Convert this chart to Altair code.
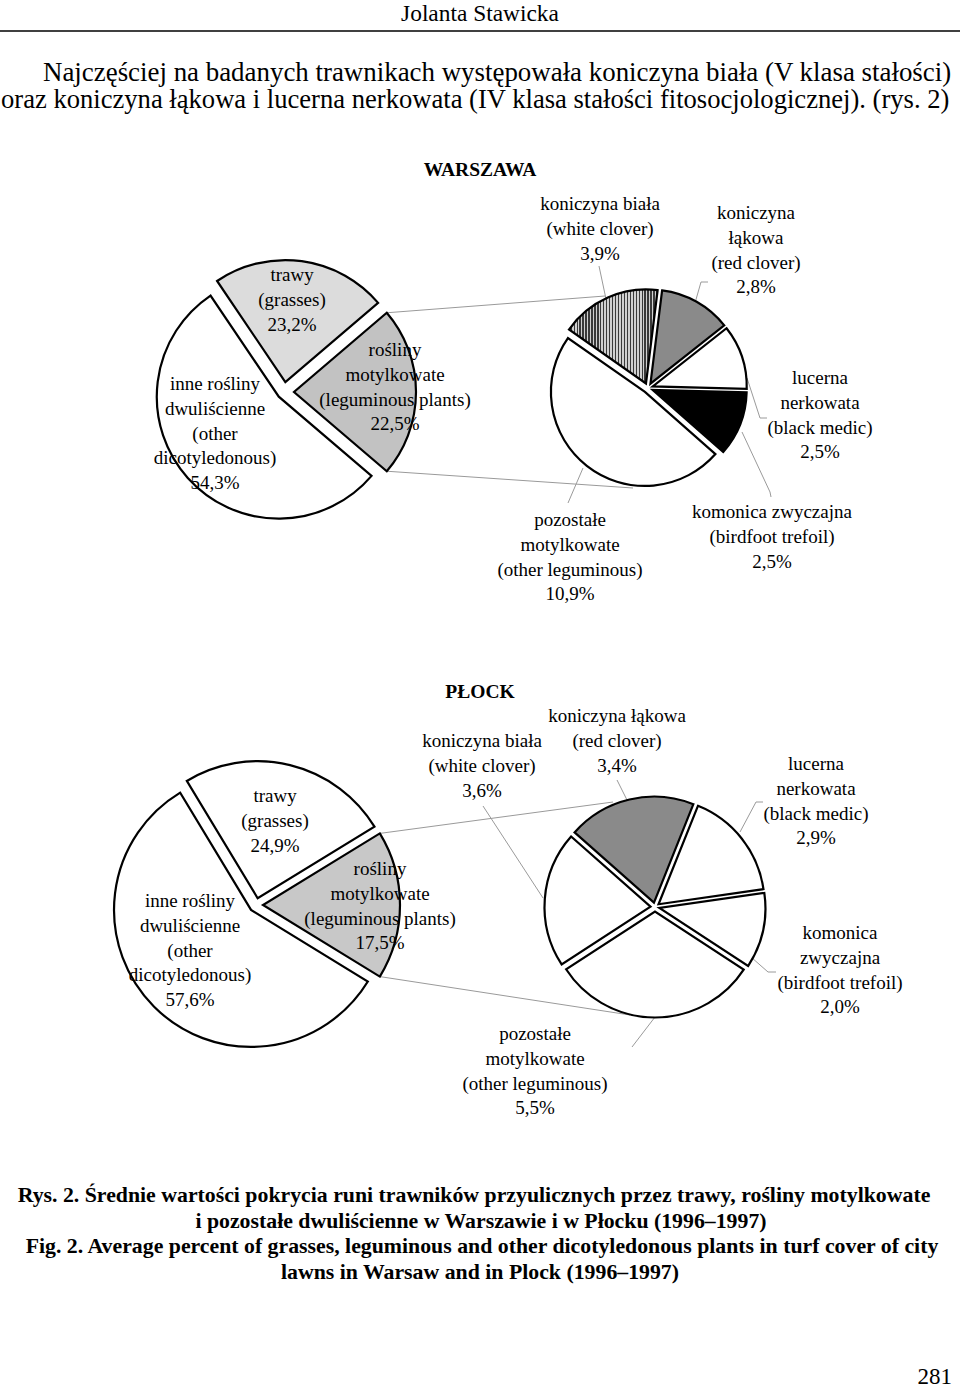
import math
import altair as alt
import pandas as pd

# ---------------- data ----------------
main_names = ["trawy", "rośliny motylkowate", "inne rośliny dwuliścienne"]
warsaw_main = [23.2, 22.5, 54.3]
plock_main = [24.9, 17.5, 57.6]

sub_names = ["koniczyna biała", "koniczyna łąkowa", "lucerna nerkowata",
             "komonica zwyczajna", "pozostałe motylkowate"]
warsaw_sub = [3.9, 2.8, 2.5, 2.5, 10.9]
plock_sub = [3.6, 3.4, 2.9, 2.0, 5.5]

warsaw_main_fill = ["#dcdcdc", "#c2c2c2", "#ffffff"]
plock_main_fill = ["#ffffff", "#c8c8c8", "#ffffff"]
warsaw_sub_fill = ["stripes", "#8a8a8a", "#ffffff", "#000000", "#ffffff"]
plock_sub_fill = ["#ffffff", "#8a8a8a", "#ffffff", "#ffffff", "#ffffff"]

warsaw_main_text = ["trawy\n(grasses)\n23,2%",
                    "rośliny\nmotylkowate\n(leguminous plants)\n22,5%",
                    "inne rośliny\ndwuliścienne\n(other\ndicotyledonous)\n54,3%"]
warsaw_sub_text = ["koniczyna biała\n(white clover)\n3,9%",
                   "koniczyna\nłąkowa\n(red clover)\n2,8%",
                   "lucerna\nnerkowata\n(black medic)\n2,5%",
                   "komonica zwyczajna\n(birdfoot trefoil)\n2,5%",
                   "pozostałe\nmotylkowate\n(other leguminous)\n10,9%"]
plock_main_text = ["trawy\n(grasses)\n24,9%",
                   "rośliny\nmotylkowate\n(leguminous plants)\n17,5%",
                   "inne rośliny\ndwuliścienne\n(other\ndicotyledonous)\n57,6%"]
plock_sub_text = ["koniczyna biała\n(white clover)\n3,6%",
                  "koniczyna łąkowa\n(red clover)\n3,4%",
                  "lucerna\nnerkowata\n(black medic)\n2,9%",
                  "komonica\nzwyczajna\n(birdfoot trefoil)\n2,0%",
                  "pozostałe\nmotylkowate\n(other leguminous)\n5,5%"]

header = "Jolanta Stawicka"
para = ["Najczęściej na badanych trawnikach występowała koniczyna biała (V klasa stałości)",
        "oraz koniczyna łąkowa i lucerna nerkowata (IV klasa stałości fitosocjologicznej). (rys. 2)"]
caption = ["Rys. 2. Średnie wartości pokrycia runi trawników przyulicznych przez trawy, rośliny motylkowate",
           "i pozostałe dwuliścienne w Warszawie i w Płocku (1996–1997)",
           "Fig. 2. Average percent of grasses, leguminous and other dicotyledonous plants in turf cover of city",
           "lawns in Warsaw and in Plock (1996–1997)"]
page_no = "281"

FONT = "Liberation Serif"

# stripes pattern (vertical lines) built as a gradient
stops = []
N = 30
for i in range(N):
    stops += [alt.GradientStop(offset=i / N, color="#d0d0d0"),
              alt.GradientStop(offset=(i + 0.55) / N, color="#d0d0d0"),
              alt.GradientStop(offset=(i + 0.55) / N, color="#3a3a3a"),
              alt.GradientStop(offset=min(1.0, (i + 1) / N), color="#3a3a3a")]
stripes = alt.LinearGradient(gradient="linear", stops=stops, x1=0, x2=1, y1=0, y2=0)


def pie(names, values, fills, cx, cy, r, start_deg, explode):
    total = sum(values)
    s = math.radians(start_deg)
    df = pd.DataFrame({"name": names, "value": values, "order": list(range(len(values))),
                       "fill": fills, "explode": explode})
    base = alt.Chart(df).transform_window(
        cum="sum(value)", sort=[alt.SortField("order")], frame=[None, 0]
    ).transform_calculate(
        c0="datum.cum - datum.value",
        mid=f"{s} + PI*(2*datum.cum - datum.value)/{total}",
    ).transform_calculate(
        px=f"{cx} + datum.explode*sin(datum.mid)",
        py=f"{cy} - datum.explode*cos(datum.mid)",
    )
    enc = dict(
        x=alt.X("px:Q", scale=None, axis=None),
        y=alt.Y("py:Q", scale=None, axis=None),
        theta=alt.Theta("c0:Q", stack=None,
                        scale=alt.Scale(domain=[0, total], range=[s, s + 2 * math.pi],
                                        nice=False, zero=False)),
        theta2="cum:Q",
    )
    out = [base.transform_filter("datum.fill != 'stripes'").mark_arc(
        radius=r, stroke="black", strokeWidth=2.2, strokeJoin="miter"
    ).encode(fill=alt.Fill("fill:N", scale=None), **enc)]
    if "stripes" in fills:
        out.append(base.transform_filter("datum.fill == 'stripes'").mark_arc(
            radius=r, stroke="black", strokeWidth=2.2, strokeJoin="miter", fill=stripes
        ).encode(**enc))
    return out


def legume_start(values):
    # secondary-pie convention: the split slice is centred on the right (90°)
    return 90 - values[1] / sum(values) * 180 - values[0] / sum(values) * 360


layers = []
W_MAIN = dict(cx=284, cy=392, r=122)
P_MAIN = dict(cx=256, cy=905, r=137)
layers += pie(main_names, warsaw_main, warsaw_main_fill, W_MAIN["cx"], W_MAIN["cy"], W_MAIN["r"],
              legume_start(warsaw_main), [10, 10, 7])
layers += pie(sub_names, warsaw_sub, warsaw_sub_fill, 648, 388, 94, -55, [5] * 5)
layers += pie(main_names, plock_main, plock_main_fill, P_MAIN["cx"], P_MAIN["cy"], P_MAIN["r"],
              legume_start(plock_main), [7, 7, 7])
layers += pie(sub_names, plock_sub, plock_sub_fill, 655, 907, 106, -123, [4.5] * 5)


def legume_corners(values, cx, cy, r, d):
    st = legume_start(values)
    a0 = st + values[0] / sum(values) * 360
    a1 = a0 + values[1] / sum(values) * 360
    ox, oy = cx + d, cy
    return [(ox + r * math.sin(math.radians(a)), oy - r * math.cos(math.radians(a))) for a in (a0, a1)]


wc = legume_corners(warsaw_main, W_MAIN["cx"], W_MAIN["cy"], W_MAIN["r"], 10)
pc = legume_corners(plock_main, P_MAIN["cx"], P_MAIN["cy"], P_MAIN["r"], 7)

lines = {
    "w_top": [wc[0], (605, 296)],
    "w_bot": [wc[1], (633, 488)],
    "p_top": [pc[0], (613, 802)],
    "p_bot": [pc[1], (630, 1015)],
    "w_white": [(599, 266), (606, 299)],
    "w_red": [(708, 282), (701, 282), (695, 303)],
    "w_luc": [(747, 378), (760, 418), (767, 418)],
    "w_kom": [(742, 432), (770, 492), (771, 497)],
    "w_poz": [(583, 468), (568, 503)],
    "p_red": [(617, 780), (627, 800)],
    "p_white": [(483, 806), (543, 898)],
    "p_luc": [(763, 802), (756, 802), (740, 832)],
    "p_kom": [(743, 950), (768, 972), (776, 972)],
    "p_poz": [(655, 1017), (632, 1047)],
}
rows = []
for k, pts in lines.items():
    for i, (x, y) in enumerate(pts):
        rows.append({"id": k, "i": i, "x": x, "y": y})
line_layer = alt.Chart(pd.DataFrame(rows)).mark_line(color="#9a9a9a", strokeWidth=1).encode(
    x=alt.X("x:Q", scale=None, axis=None), y=alt.Y("y:Q", scale=None, axis=None),
    detail="id:N", order="i:Q")

# pie labels: (centre x, first-line y)
lab_pos = {
    "w_main": [(292, 275), (395, 350), (215, 384)],
    "w_sub": [(600, 204), (756, 213), (820, 378), (772, 512), (570, 520)],
    "p_main": [(275, 796), (380, 869), (190, 901)],
    "p_sub": [(482, 741), (617, 716), (816, 764), (840, 933), (535, 1034)],
}
texts = {"w_main": warsaw_main_text, "w_sub": warsaw_sub_text,
         "p_main": plock_main_text, "p_sub": plock_sub_text}
lrows = []
for k, pos in lab_pos.items():
    for (x, y), t in zip(pos, texts[k]):
        lrows.append({"x": x, "y": y, "t": t})
label_layer = alt.Chart(pd.DataFrame(lrows)).mark_text(
    font=FONT, fontSize=19, lineBreak="\n", lineHeight=24.8, align="center", baseline="middle",
    color="black"
).encode(x=alt.X("x:Q", scale=None, axis=None), y=alt.Y("y:Q", scale=None, axis=None), text="t:N")

# page texts
prow = [
    {"x": 480, "y": 14, "t": header, "s": 23.4, "w": "normal", "a": "center"},
    {"x": 480, "y": 170, "t": "WARSZAWA", "s": 19.5, "w": "bold", "a": "center"},
    {"x": 480, "y": 692, "t": "PŁOCK", "s": 19.5, "w": "bold", "a": "center"},
    {"x": 952, "y": 1377, "t": page_no, "s": 23, "w": "normal", "a": "right"},
]
for t, y, x in zip(caption, [1195, 1221, 1246, 1272], [474, 481, 482, 480]):
    prow.append({"x": x, "y": y, "t": t, "s": 21.8, "w": "bold", "a": "center"})
page_df = pd.DataFrame(prow)
page_layers = []
for a in ["center", "right"]:
    for w in ["normal", "bold"]:
        sub = page_df[(page_df.a == a) & (page_df.w == w)]
        for s in sorted(sub.s.unique()):
            d = sub[sub.s == s]
            page_layers.append(alt.Chart(d).mark_text(
                font=FONT, fontSize=float(s), fontWeight=w, align=a, baseline="middle", color="black"
            ).encode(x=alt.X("x:Q", scale=None, axis=None), y=alt.Y("y:Q", scale=None, axis=None),
                     text="t:N"))

para_df = pd.DataFrame({"x": [43, 1], "y": [73, 100], "t": para, "s": [26.9, 26.6]})
para_layers = [alt.Chart(para_df.iloc[[i]]).mark_text(
    font=FONT, fontSize=float(para_df.s[i]), align="left", baseline="middle", color="black"
).encode(x=alt.X("x:Q", scale=None, axis=None), y=alt.Y("y:Q", scale=None, axis=None), text="t:N")
    for i in range(len(para_df))]

rule_layer = alt.Chart(pd.DataFrame({"x": [0], "x2": [960], "y": [31]})).mark_rule(
    color="black", strokeWidth=1.6).encode(
    x=alt.X("x:Q", scale=None, axis=None), x2="x2:Q", y=alt.Y("y:Q", scale=None, axis=None))

chart = alt.layer(
    line_layer, *layers, label_layer, *para_layers, rule_layer, *page_layers
).resolve_scale(theta="independent").properties(
    width=960, height=1390, padding=0, autosize="none", background="white"
).configure_view(stroke=None)

chart.save("out.html", embed_options={"renderer": "svg", "actions": False})
